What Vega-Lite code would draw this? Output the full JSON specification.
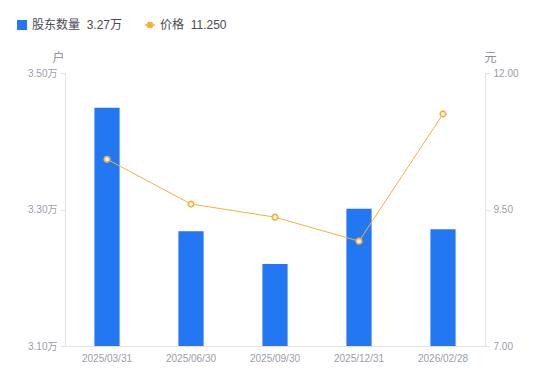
{
  "$schema": "https://vega.github.io/schema/vega-lite/v6.json",
  "width": 420,
  "height": 273,
  "autosize": {"type": "none"},
  "padding": {"left": 65, "top": 73, "right": 65, "bottom": 35},
  "background": "white",
  "config": {
    "font": "Liberation Sans, Noto Sans CJK SC",
    "view": {"stroke": null}
  },
  "data": {
    "values": [
      {"date": "2025/03/31", "holders": 3.449, "price": 10.42},
      {"date": "2025/06/30", "holders": 3.268, "price": 9.60},
      {"date": "2025/09/30", "holders": 3.220, "price": 9.36},
      {"date": "2025/12/31", "holders": 3.301, "price": 8.92},
      {"date": "2026/02/28", "holders": 3.271, "price": 11.25}
    ]
  },
  "encoding": {
    "x": {
      "field": "date",
      "type": "ordinal",
      "sort": null,
      "scale": {"paddingInner": 0, "paddingOuter": 0},
      "axis": {
        "title": null,
        "labelAngle": 0,
        "ticks": false,
        "domainColor": "#e3e3e6",
        "labelColor": "#9b9ca8",
        "labelFontSize": 10,
        "labelPadding": 7,
        "grid": false
      }
    }
  },
  "layer": [
    {
      "mark": {"type": "bar", "width": {"band": 0.3}, "clip": true},
      "encoding": {
        "y": {
          "field": "holders",
          "type": "quantitative",
          "scale": {"domain": [3.1, 3.5], "zero": false, "nice": false},
          "axis": {
            "title": "户",
            "titleAngle": 0,
            "titleX": -7,
            "titleY": -16,
            "titleAlign": "center",
            "titleBaseline": "middle",
            "titleColor": "#8a8b96",
            "titleFontSize": 12,
            "titleFontWeight": "normal",
            "values": [3.1, 3.3, 3.5],
            "labelExpr": "format(datum.value, '.2f') + '万'",
            "grid": false,
            "domainColor": "#e3e3e6",
            "tickColor": "#e3e3e6",
            "tickSize": 5,
            "labelColor": "#9b9ca8",
            "labelFontSize": 10,
            "labelPadding": 3
          }
        },
        "y2": {"datum": 3.1},
        "color": {
          "datum": "股东数量",
          "type": "nominal",
          "scale": {"domain": ["股东数量", "价格"], "range": ["#2477F2", "#F9AF3D"]},
          "legend": {
            "orient": "none",
            "legendX": -49,
            "legendY": -54,
            "direction": "horizontal",
            "title": null,
            "labelExpr": "datum.label == '股东数量' ? '股东数量\u00a0\u00a03.27万' : '价格\u00a0\u00a011.250'",
            "labelFontSize": 12,
            "labelColor": "#4a4b55",
            "symbolSize": 100,
            "columnPadding": 19,
            "labelOffset": 4,
            "encode": {
              "symbols": {
                "update": {
                  "shape": {"signal": "datum.value == '价格' ? 'M-1,0H-0.5M0.5,0H1M0.5,0A0.5,0.5 0 1 1 -0.5,0A0.5,0.5 0 1 1 0.5,0' : 'square'"},
                  "fill": {"signal": "datum.value == '价格' ? '#ffffff' : '#2477F2'"},
                  "stroke": {"signal": "datum.value == '价格' ? '#F9AF3D' : '#2477F2'"},
                  "strokeWidth": {"signal": "datum.value == '价格' ? 1.5 : 0"},
                  "opacity": {"value": 1}
                }
              }
            }
          }
        }
      }
    },
    {
      "layer": [
        {
          "mark": {"type": "line", "strokeWidth": 1},
          "encoding": {
            "y": {"field": "price", "type": "quantitative"},
            "color": {"datum": "价格", "type": "nominal"}
          }
        },
        {
          "mark": {"type": "point", "filled": true, "fill": "#ffffff", "stroke": "#F9AF3D", "strokeWidth": 1.8, "size": 30, "opacity": 1},
          "encoding": {
            "y": {"field": "price", "type": "quantitative"}
          }
        }
      ],
      "encoding": {
        "y": {
          "field": "price",
          "type": "quantitative",
          "scale": {"domain": [7, 12], "zero": false, "nice": false},
          "axis": {
            "orient": "right",
            "title": "元",
            "titleAngle": 0,
            "titleX": 5,
            "titleY": -16,
            "titleAlign": "center",
            "titleBaseline": "middle",
            "titleColor": "#8a8b96",
            "titleFontSize": 12,
            "titleFontWeight": "normal",
            "values": [7, 9.5, 12],
            "format": ".2f",
            "grid": false,
            "domainColor": "#e3e3e6",
            "tickColor": "#e3e3e6",
            "tickSize": 5,
            "labelColor": "#9b9ca8",
            "labelFontSize": 10,
            "labelPadding": 3
          }
        }
      }
    }
  ],
  "resolve": {"scale": {"y": "independent"}}
}
